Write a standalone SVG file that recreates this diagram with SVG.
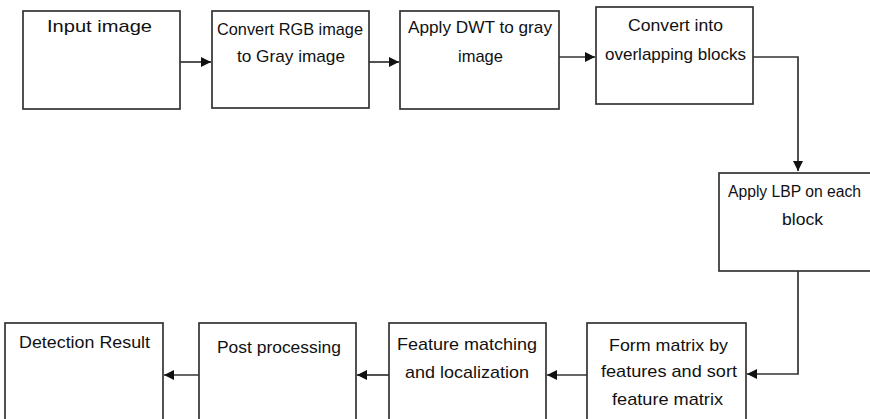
<svg xmlns="http://www.w3.org/2000/svg" width="870" height="419" viewBox="0 0 870 419">
<defs>
<style>
.box{fill:#fff;stroke:#333;stroke-width:1.7}
.t{font-family:"Liberation Sans",Arial,sans-serif;font-size:17px;fill:#111;text-anchor:start}
.c{fill:none;stroke:#333;stroke-width:1.7}
</style>
<marker id="ah" markerWidth="11" markerHeight="11" refX="10" refY="5.5" orient="auto" markerUnits="userSpaceOnUse">
<path d="M0,0.5 L10,5.5 L0,10.5 Z" fill="#111"/>
</marker>
</defs>
<rect width="870" height="419" fill="#fff"/>
<g id="connectors">
<path class="c" d="M180,62 H211" marker-end="url(#ah)"/>
<path class="c" d="M369,62 H399" marker-end="url(#ah)"/>
<path class="c" d="M559,57 H595" marker-end="url(#ah)"/>
<path class="c" d="M753,57 H798 V171" marker-end="url(#ah)"/>
<path class="c" d="M798,271 V374 H747" marker-end="url(#ah)"/>
<path class="c" d="M587,375 H547" marker-end="url(#ah)"/>
<path class="c" d="M389,375 H357" marker-end="url(#ah)"/>
<path class="c" d="M199,375 H164" marker-end="url(#ah)"/>
</g>
<g id="n1">
<rect class="box" x="23" y="11" width="157" height="98"/>
<text class="t" x="47" y="32" textLength="105" lengthAdjust="spacingAndGlyphs">Input image</text>
</g>
<g id="n2">
<rect class="box" x="212" y="11" width="157" height="97"/>
<text class="t" x="217" y="35" textLength="146" lengthAdjust="spacingAndGlyphs">Convert RGB image</text>
<text class="t" x="237" y="62" textLength="108" lengthAdjust="spacingAndGlyphs">to Gray image</text>
</g>
<g id="n3">
<rect class="box" x="400" y="11" width="159" height="98"/>
<text class="t" x="408" y="33" textLength="144" lengthAdjust="spacingAndGlyphs">Apply DWT to gray</text>
<text class="t" x="458" y="62" textLength="45" lengthAdjust="spacingAndGlyphs">image</text>
</g>
<g id="n4">
<rect class="box" x="596" y="7" width="157" height="97"/>
<text class="t" x="628" y="31" textLength="95" lengthAdjust="spacingAndGlyphs">Convert into</text>
<text class="t" x="605" y="60" textLength="141" lengthAdjust="spacingAndGlyphs">overlapping blocks</text>
</g>
<g id="n5">
<rect class="box" x="719" y="173" width="160" height="98"/>
<text class="t" x="728" y="197" font-size="16" textLength="133" lengthAdjust="spacingAndGlyphs" style="font-size:16px">Apply LBP on each</text>
<text class="t" x="782" y="225" textLength="41" lengthAdjust="spacingAndGlyphs">block</text>
</g>
<g id="n6">
<rect class="box" x="587" y="323" width="159" height="110"/>
<text class="t" x="609" y="351" textLength="119" lengthAdjust="spacingAndGlyphs">Form matrix by</text>
<text class="t" x="601" y="377" textLength="136" lengthAdjust="spacingAndGlyphs">features and sort</text>
<text class="t" x="612" y="405" textLength="111" lengthAdjust="spacingAndGlyphs">feature matrix</text>
</g>
<g id="n7">
<rect class="box" x="389" y="323" width="157" height="110"/>
<text class="t" x="397" y="350" textLength="140" lengthAdjust="spacingAndGlyphs">Feature matching</text>
<text class="t" x="405" y="378" textLength="124" lengthAdjust="spacingAndGlyphs">and localization</text>
</g>
<g id="n8">
<rect class="box" x="199" y="323" width="157" height="110"/>
<text class="t" x="217" y="353" textLength="124" lengthAdjust="spacingAndGlyphs">Post processing</text>
</g>
<g id="n9">
<rect class="box" x="5" y="323" width="158" height="110"/>
<text class="t" x="19" y="348" textLength="131" lengthAdjust="spacingAndGlyphs">Detection Result</text>
</g>
</svg>
